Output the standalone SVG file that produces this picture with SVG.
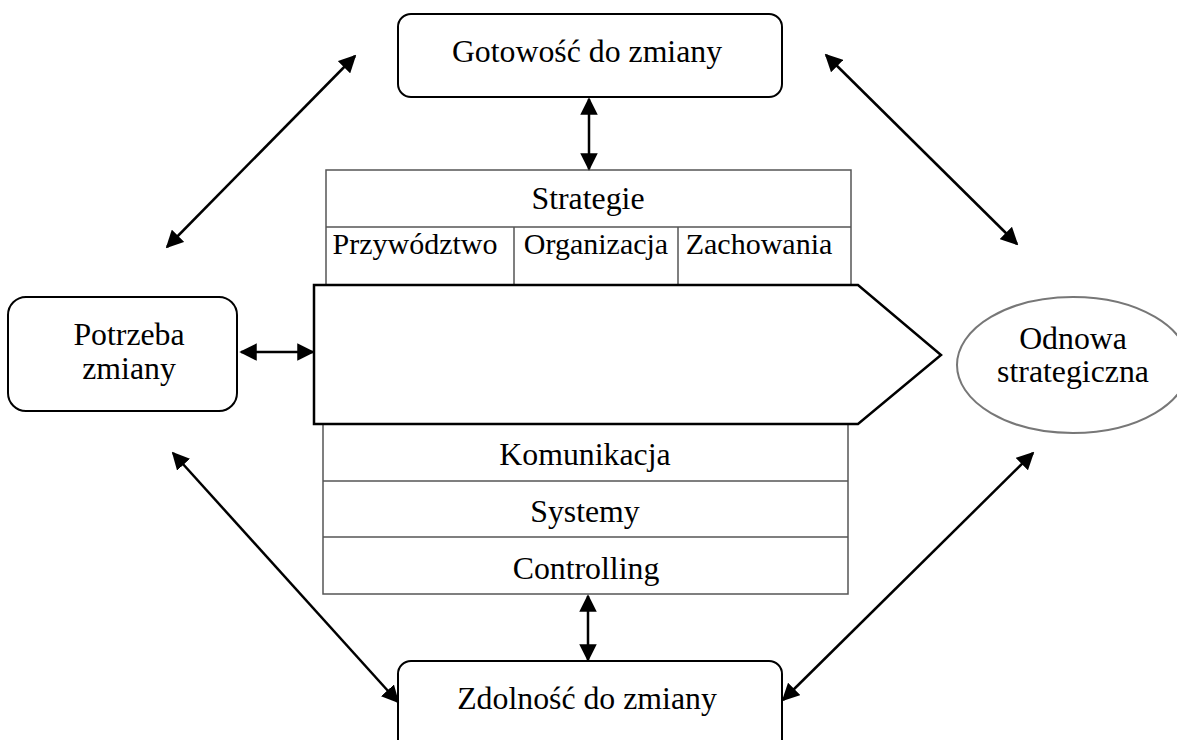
<svg xmlns="http://www.w3.org/2000/svg" width="1177" height="740" viewBox="0 0 1177 740">
  <style>
    .t { font-family: "Liberation Serif", "Times New Roman", serif; font-size: 31.8px; fill: #000; text-anchor: middle; }
    .tc { font-family: "Liberation Serif", "Times New Roman", serif; font-size: 30px; fill: #000; text-anchor: middle; }
    .box { fill: #fff; stroke: #000; stroke-width: 2; }
    .cell { fill: #fff; stroke: #555; stroke-width: 1.5; }
    .grid { stroke: #555; stroke-width: 1.5; fill: none; }
    .link { stroke: #000; stroke-width: 2.5; fill: none; marker-start: url(#head); marker-end: url(#head); }
  </style>
  <defs>
    <marker id="head" viewBox="0 0 10 10" refX="9" refY="5" markerWidth="7" markerHeight="7" orient="auto-start-reverse" markerUnits="strokeWidth">
      <path d="M0,0 L10,5 L0,10 z" fill="#000"/>
    </marker>
  </defs>
  <rect width="1177" height="740" fill="#fff"/>

  <!-- upper block: strategy and its three pillars -->
  <g id="strategie">
    <rect class="cell" x="326" y="170" width="525" height="115"/>
    <line class="grid" x1="326" y1="227" x2="851" y2="227"/>
    <line class="grid" x1="514" y1="227" x2="514" y2="285"/>
    <line class="grid" x1="678" y1="227" x2="678" y2="285"/>
    <text class="t" x="588" y="209">Strategie</text>
    <text class="tc" x="415" y="254">Przywództwo</text>
    <text class="tc" x="596" y="254">Organizacja</text>
    <text class="tc" x="759" y="254">Zachowania</text>
  </g>

  <!-- lower block: supporting functions -->
  <g id="funkcje">
    <rect class="cell" x="323" y="424" width="525" height="170"/>
    <line class="grid" x1="323" y1="481" x2="848" y2="481"/>
    <line class="grid" x1="323" y1="537" x2="848" y2="537"/>
    <text class="t" x="585" y="465">Komunikacja</text>
    <text class="t" x="585" y="522">Systemy</text>
    <text class="t" x="586" y="579">Controlling</text>
  </g>

  <!-- central process arrow -->
  <g id="proces">
    <polygon points="314,285 858,285 941,355 858,424 314,424" fill="#fff" stroke="#000" stroke-width="2.5" stroke-linejoin="miter"/>
  </g>

  <g id="gotowosc">
    <rect class="box" x="398" y="14" width="384" height="83" rx="13"/>
    <text class="t" x="587" y="62">Gotowość do zmiany</text>
  </g>

  <g id="potrzeba">
    <rect class="box" x="8" y="297" width="229" height="114" rx="18"/>
    <text class="t" x="129" y="345">Potrzeba</text>
    <text class="t" x="129" y="379">zmiany</text>
  </g>

  <g id="odnowa">
    <ellipse cx="1073" cy="365" rx="116" ry="68" fill="#fff" stroke="#777" stroke-width="2"/>
    <text class="t" x="1073" y="349">Odnowa</text>
    <text class="t" x="1073" y="382">strategiczna</text>
  </g>

  <g id="zdolnosc">
    <rect class="box" x="398" y="661" width="384" height="95" rx="13"/>
    <text class="t" x="587" y="709">Zdolność do zmiany</text>
  </g>

  <!-- two-way connectors -->
  <g id="connectors">
    <line class="link" x1="589" y1="99" x2="589" y2="169"/>
    <line class="link" x1="588" y1="596" x2="588" y2="660"/>
    <line class="link" x1="241" y1="352" x2="313" y2="352"/>
    <line class="link" x1="167" y1="247" x2="355" y2="56"/>
    <line class="link" x1="826" y1="55" x2="1017" y2="244"/>
    <line class="link" x1="173" y1="453" x2="398" y2="702"/>
    <line class="link" x1="1033" y1="453" x2="783" y2="700"/>
  </g>
</svg>
